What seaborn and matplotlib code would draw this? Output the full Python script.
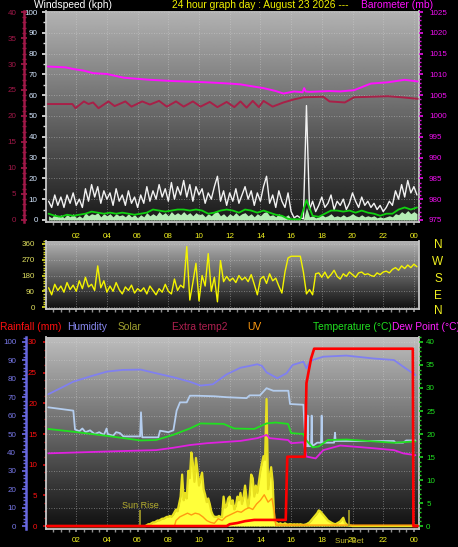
import numpy as np
import matplotlib
matplotlib.use("Agg")
import matplotlib.pyplot as plt
import seaborn as sns
from matplotlib.ticker import MultipleLocator

sns.set_theme(style="dark")
plt.rcParams["font.family"] = ["Liberation Sans", "DejaVu Sans"]

W, H = 458, 547
X0, X1 = 0.03, 24.3

hour_ticks = [2, 4, 6, 8, 10, 12, 14, 16, 18, 20, 22, 24]
hour_labels = ["02", "04", "06", "08", "10", "12", "14", "16", "18", "20", "22", "00"]

# ---- top panel: wind (kph), barometer (mb), extra temp (0-40) ----
wind_times = np.round(np.arange(121) * 0.2 + 0.2, 2)
wind_gust = [9, 6, 12, 7, 11, 6, 12, 8, 13, 7, 10, 6, 15, 9, 17, 11, 16, 8, 14, 10,
             13, 7, 15, 9, 12, 7, 14, 8, 11, 6, 12, 8, 16, 9, 14, 10, 17, 11, 15, 9,
             18, 10, 16, 12, 19, 11, 17, 9, 16, 12, 15, 8, 13, 10, 16, 21, 9, 14, 7, 13,
             9, 15, 8, 12, 16, 10, 14, 7, 13, 9, 16, 21, 8, 12, 6, 14, 9, 6, 13, 4,
             1, 2, 1, 0.5, 55, 5, 9, 4, 7, 11, 6, 8, 12, 5, 9, 7, 10, 5, 8, 13,
             9, 6, 11, 7, 9, 6, 8, 5, 7, 4, 6, 9, 7, 14, 10, 17, 11, 19, 13, 16, 12]
wind_speed = [2, 1, 3, 1.5, 2.5, 1, 2.5, 1.5, 3, 1, 2, 1, 3.5, 2, 3, 2.5, 3.5, 1.5, 3, 2,
              3, 1.5, 3, 2, 2.5, 1.5, 3, 1.5, 2.5, 1, 2.5, 1.5, 3.5, 2, 3, 2, 4, 2.5, 3.5, 2,
              4, 2.5, 3.5, 2.5, 4, 2.5, 3.5, 2, 3.5, 2.5, 3, 1.5, 3, 2, 3.5, 4, 2, 3, 1.5, 3,
              2, 3.5, 2, 3, 3.5, 2, 3, 1.5, 3, 2, 3.5, 4, 2, 2.5, 1.5, 3, 2, 1.5, 2.5, 0.5,
              0.2, 0.3, 0.2, 0.2, 6, 1.5, 2, 1, 1.5, 2.5, 1.5, 2, 3, 1.5, 2, 1.5, 2.5, 1.5, 2, 3,
              2, 1.5, 2.5, 1.5, 2, 1.5, 2, 1, 1.5, 1, 1.5, 2, 1.5, 3, 2.5, 4, 3, 4.5, 3, 4, 3]
avg_times = np.round(np.arange(61) * 0.4 + 0.2, 2)
wind_avg = [3, 2, 1.5, 2.5, 2, 2.5, 3, 4, 3.5, 3, 3.5, 3, 3.5, 3, 2.5, 3, 3.5, 5, 4.5, 4,
            4.5, 5, 5, 4.5, 5, 4.5, 3, 3.5, 4.5, 5, 4.5, 3.5, 5, 4.5, 3.5, 4.5, 3.5, 2.5, 2, 0.5,
            0.3, 0.3, 9.5, 2, 1.5, 3, 4.5, 4.5, 4, 4.5, 3.5, 4.5, 3.5, 3, 2, 3, 3, 5, 6, 5, 6]

baro_times = [0.15, 1.3, 1.8, 2.5, 3.1, 4.0, 5.1, 6.8, 8.3, 10.5, 12.0, 12.7, 14.2, 15.0,
              15.5, 16.2, 16.75, 16.85, 16.95, 17.2, 18.5, 19.2, 20.1, 21.2, 22.3, 23.4, 24.25]
barometer = [1011.9, 1011.7, 1011.3, 1010.9, 1010.3, 1010.1, 1009.2, 1008.7, 1008.4, 1008.1,
             1007.8, 1007.6, 1006.7, 1006.0, 1005.4, 1005.9, 1005.7, 1006.7, 1005.9, 1005.8,
             1006.0, 1005.9, 1006.2, 1007.8, 1008.1, 1008.7, 1008.3]

extra_times = [0.15, 1.75, 1.95, 2.5, 2.8, 3.1, 3.45, 4.1, 4.5, 5.2, 5.6, 6.3, 6.8, 7.4, 7.9,
               8.5, 9.0, 9.6, 10.1, 10.7, 11.2, 11.8, 12.3, 12.7, 13.1, 13.5, 13.9, 14.2, 14.8,
               15.5, 16.2, 16.8, 18.1, 18.5, 19.5, 20.1, 22.3, 23.2, 24.25]
extra_temp1 = [22.3, 22.3, 21.5, 22.8, 22.3, 22.6, 21.5, 22.8, 21.9, 22.8, 21.8, 22.8, 22.2,
               22.9, 21.8, 22.8, 21.8, 22.8, 21.8, 22.7, 21.7, 22.7, 21.7, 22.8, 21.6, 22.9,
               21.7, 22.9, 21.8, 22.6, 23.2, 23.6, 23.7, 22.8, 22.6, 23.6, 23.8, 23.6, 23.3]

# ---- middle panel: wind direction (deg) ----
wind_dir = [110, 70, 130, 95, 120, 85, 140, 100, 125, 90, 150, 105, 170, 115, 130,
            95, 235, 110, 150, 85, 120, 90, 140, 100, 75, 115, 95, 125, 80, 105,
            90, 110, 75, 120, 95, 70, 105, 85, 130, 90, 75, 160, 95, 125, 110,
            345, 40, 140, 250, 35, 180, 120, 305, 90, 170, 30, 265, 145, 175, 150,
            165, 140, 180, 155, 170, 145, 185, 130, 70, 160, 175, 135, 190, 150, 165,
            120, 80, 200, 280, 290, 290, 290, 290, 200, 75, 100, 70, 190, 195, 170,
            200, 165, 185, 210, 175, 160, 190, 175, 200, 185, 170, 195, 200, 185, 190,
            180, 175, 195, 185, 200, 205, 195, 215, 225, 210, 235, 220, 240, 225, 245, 230]

# ---- bottom panel ----
hum_times = [0.18, 1.0, 1.8, 3.0, 4.0, 5.0, 6.2, 7.2, 8.3, 9.4, 10.1, 10.9, 11.8, 12.7, 13.3,
             13.8, 14.1, 14.4, 15.1, 15.7, 16.1, 16.8, 17.0, 17.2, 17.4, 18.1, 19.6, 21.4,
             22.7, 23.3, 24.1]
humidity = [71.6, 75, 78.4, 81.5, 83.9, 84.8, 85, 83, 80.9, 78.4, 76.3, 77, 82.4, 86, 87,
            87.9, 87, 83.5, 80.3, 83, 87.5, 89.3, 85.7, 89, 90.2, 92, 92.6, 91, 90.2, 86.6, 82]

extra2_times = [0.18, 1.81, 1.92, 2.2, 2.4, 2.6, 2.9, 3.2, 3.5, 3.8, 3.98, 4.05, 4.4, 4.6,
                4.85, 5.07, 6.16, 6.22, 6.3, 7.35, 7.46, 8.0, 8.33, 8.54, 8.76, 9.2, 9.41,
                9.85, 11.0, 11.8, 13.1, 13.3, 13.97, 14.4, 14.84, 15.82, 15.93, 16.8, 16.95,
                17.05, 17.08, 17.12, 17.3, 17.34, 17.38, 17.7, 17.95, 17.99, 18.03, 18.8,
                18.86, 18.9, 22.7, 22.8, 23.3, 23.5, 24.1]
extra_hum = [64.5, 62.7, 52.5, 51.5, 53, 51, 52, 50, 51, 49.5, 53, 50, 49, 51, 50.5, 48.7,
             48.7, 61.8, 48.2, 48.2, 51.8, 51, 52, 62.7, 67.2, 67.2, 70.8, 70.8, 70.5, 70,
             69.5, 71, 71, 74.9, 73.5, 73.5, 66.3, 65.9, 43.4, 43.4, 60, 43.4, 43.4, 60, 43.4,
             45.3, 45.3, 60, 45.3, 45.3, 50.7, 46.2, 46.2, 45.3, 45.3, 46.5, 46.5]

temp_times = [0.18, 1.8, 4.0, 6.2, 7.2, 8.3, 9.4, 10.1, 11.6, 12.3, 13.6, 14.4, 15.0, 15.8,
              16.0, 16.8, 17.0, 17.4, 17.8, 18.4, 19.6, 21.4, 22.7, 24.1]
temperature = [21.1, 20.5, 19.6, 18.6, 18.7, 19.8, 21.2, 22.3, 22.2, 21.2, 21.1, 22.3, 22.5,
               22.2, 20.2, 20.0, 18.6, 17.1, 17.3, 18.7, 18.8, 18.4, 18.1, 18.4]
dew_times = [0.18, 4.0, 7.2, 8.3, 9.4, 10.5, 12.7, 13.8, 14.4, 14.6, 15.8, 16.0, 16.8, 17.0,
             17.6, 18.1, 19.2, 21.4, 22.7, 23.3, 24.1]
dew_point = [15.8, 16.2, 16.5, 17.0, 17.6, 18.0, 18.5, 19.1, 19.8, 19.1, 18.7, 18.0, 18.2,
             15.1, 14.7, 16.5, 17.5, 16.9, 16.5, 15.8, 15.4]

rain_times = [0.1, 11.8, 12.0, 12.5, 13.0, 13.6, 15.65, 15.75, 16.9, 17.0, 17.3, 17.5,
              23.93, 23.97, 24.25]
rainfall = [0, 0, 0.3, 0.5, 0.8, 1.0, 1.0, 11.3, 11.3, 23.3, 27.3, 28.9, 28.9, 0, 0]

solar_active = [0, 0.5, 1, 1, 1.5, 2, 2, 2.5, 3, 3, 3.5, 4, 4, 4.5, 5,
                5, 5.5, 5, 6, 7.5, 9, 8, 12, 16, 28, 14, 18, 15, 30, 26,
                40, 34, 24, 37, 30, 22, 26, 29, 20, 17, 13, 15, 12, 8, 6,
                5, 5, 5, 5.5, 5, 5, 16, 10, 11, 15, 16, 12, 14, 9, 11,
                16, 14, 18, 12, 16, 22, 15, 10, 17, 28, 26, 16, 22, 18, 24,
                30, 34, 38, 36, 69, 20, 27, 32, 24, 3, 2, 1.5, 1, 1.5, 1,
                1, 1.5, 1, 0.8, 1, 1, 0.8, 1, 0.8, 1, 0.8, 1, 0.8, 0.6, 0.8,
                1, 1.5, 2, 3, 4, 5, 6, 7, 8.5, 8, 7, 6, 5, 4, 3,
                2.5, 2, 1.5, 1.2, 1, 1.5, 2, 2.5, 3.5, 4.5, 2, 1, 0.5, 0.3, 0.2, 0]
solar_times = np.concatenate([[0.1], np.round(np.arange(136) * 0.1 + 6.5, 2), [24.25]])
solar = np.concatenate([[0], solar_active, [0]])

uv_times = [0.1, 8.4, 8.5, 8.75, 9.0, 9.25, 9.5, 9.75, 10.0, 10.25, 10.5, 10.75, 11.0, 11.25,
            11.5, 11.75, 12.0, 12.25, 12.5, 12.75, 13.0, 13.25, 13.5, 13.75, 14.0, 14.25,
            14.5, 14.75, 14.9, 15.0, 24.25]
uv = [0, 0, 3, 5, 6, 7, 6, 7, 6.5, 5, 3, 2, 1.5, 4, 3, 5, 6, 7, 8, 7.5, 9, 10, 9, 12, 14,
      17, 13, 15, 8, 0.5, 0.5]

sun_rise, sun_set, sun_mark = 6.15, 19.8, 8.5


def px_rect(x0, y0, x1, y1):
    return [x0 / W, 1 - y1 / H, (x1 - x0) / W, (y1 - y0) / H]


def gradient(ax, top, bottom):
    grad = np.linspace(bottom, top, 256).reshape(-1, 1)
    ax.imshow(grad, extent=[0, 1, 0, 1], transform=ax.transAxes, origin="lower",
              aspect="auto", cmap="gray", vmin=0, vmax=1, zorder=0)


def base_style(ax, ylim):
    ax.set_xlim(X0, X1)
    ax.set_ylim(*ylim)
    ax.set_xticks(hour_ticks)
    ax.set_xticklabels(hour_labels)
    ax.xaxis.set_minor_locator(MultipleLocator(0.5))
    ax.grid(True, which="major", color="#d8d8d8", linestyle=(0, (1, 2)), linewidth=0.6, alpha=0.55)
    ax.tick_params(axis="x", which="both", bottom=True, colors="#909090", length=2,
                   labelcolor="#f0f020", labelsize=5.8, pad=3.5)
    ax.spines["top"].set_visible(False)
    for s in ["left", "bottom", "right"]:
        ax.spines[s].set_color("#c8c8c8")
        ax.spines[s].set_linewidth(1.3)
    ax.set_xlabel("")
    ax.set_ylabel("")


def twin_clean(ax):
    for s in ["top", "bottom", "left", "right"]:
        ax.spines[s].set_visible(False)
    ax.grid(False)
    ax.set_ylabel("")


def line(ax, x, y, color, lw, z=3):
    sns.lineplot(x=x, y=y, ax=ax, color=color, linewidth=lw, estimator=None,
                 sort=False, legend=False, zorder=z)


fig = plt.figure(figsize=(W / 100, H / 100), dpi=100, facecolor="black")

# ---------------- top panel ----------------
ax1 = fig.add_axes(px_rect(46, 11, 418.5, 222))
gradient(ax1, 0.70, 0.10)
ax1.fill_between(wind_times, 0, wind_speed, color="#b4ecb4", linewidth=0, zorder=2)
line(ax1, wind_times, wind_gust, "#f2f2f2", 1.0)
line(ax1, avg_times, wind_avg, "#10d010", 1.3, z=4)
base_style(ax1, (-1, 100.5))
ax1.tick_params(axis="x", pad=6)
ax1.set_yticks(range(0, 101, 10))
ax1.yaxis.set_minor_locator(MultipleLocator(5))
ax1.tick_params(axis="y", which="both", left=True, colors="#e0e0e0", labelcolor="#d4e6ff",
                labelsize=5.8, length=3, pad=3)
ax1.tick_params(axis="y", which="minor", length=2)

ax_c = ax1.twinx()
line(ax_c, extra_times, extra_temp1, "#a82048", 1.4)
twin_clean(ax_c)
ax_c.set_ylim(-0.4, 40.2)
ax_c.yaxis.set_ticks_position("left")
ax_c.spines["left"].set_visible(True)
ax_c.spines["left"].set_position(("axes", -0.059))
ax_c.spines["left"].set_color("#a01848")
ax_c.spines["left"].set_linewidth(1.8)
ax_c.set_yticks(range(0, 41, 5))
ax_c.yaxis.set_minor_locator(MultipleLocator(1))
ax_c.tick_params(axis="y", which="both", left=True, right=False, direction="inout",
                 colors="#a01848", labelsize=5.8, length=5, pad=3)
ax_c.tick_params(axis="y", which="minor", length=3)

ax_b = ax1.twinx()
line(ax_b, baro_times, barometer, "#ff10ff", 1.4)
twin_clean(ax_b)
ax_b.set_ylim(974.5, 1025.25)
ax_b.set_yticks(range(975, 1026, 5))
ax_b.yaxis.set_minor_locator(MultipleLocator(1))
ax_b.tick_params(axis="y", which="both", right=True, colors="#e010e0", labelcolor="#f010f0",
                 labelsize=5.8, length=3, pad=4.5)
ax_b.tick_params(axis="y", which="minor", length=1.5)
ax_b.set_xlim(X0, X1)

# ---------------- middle panel ----------------
ax2 = fig.add_axes(px_rect(46, 241, 418.5, 309))
gradient(ax2, 0.70, 0.06)
line(ax2, wind_times, wind_dir, "#f4f400", 1.0)
base_style(ax2, (-11, 377))
ax2.tick_params(axis="x", labelbottom=False)
ax2.set_yticks([0, 90, 180, 270, 360])
ax2.yaxis.set_minor_locator(MultipleLocator(15))
ax2.tick_params(axis="y", which="both", left=True, colors="#d8d820", labelcolor="#e0e060",
                labelsize=5.8, length=3, pad=5)
ax2.tick_params(axis="y", which="minor", length=2)

# ---------------- bottom panel ----------------
ax3 = fig.add_axes(px_rect(46, 337, 418.5, 529))
gradient(ax3, 0.74, 0.06)
ax3.fill_between(solar_times, 0, solar, color="#ffff3a", linewidth=0, zorder=2)
line(ax3, solar_times, solar, "#e8e020", 1.6, z=2.5)
line(ax3, uv_times, uv, "#ff9a10", 1.0)
line(ax3, hum_times, humidity, "#8080f0", 1.3)
line(ax3, extra2_times, extra_hum, "#b4cdee", 1.3)
ax3.vlines([sun_rise, sun_set], 0, sun_mark, color="#a8a028", linewidth=1.2, zorder=3)
ax3.text(sun_rise - 1.2, sun_mark + 2.5, "Sun Rise", color="#b8b030", fontsize=6.5,
         ha="left", va="center", zorder=5)
ax3.text(sun_set, -8.2, "Sun Set", color="#c8c030", fontsize=5.8, ha="center",
         va="center", clip_on=False)
base_style(ax3, (-1.6, 102.7))
ax3.spines["left"].set_position(("axes", -0.054))
ax3.spines["left"].set_color("#6868e0")
ax3.spines["left"].set_linewidth(1.8)
ax3.set_yticks(range(0, 101, 10))
ax3.yaxis.set_minor_locator(MultipleLocator(2))
ax3.tick_params(axis="y", which="both", left=True, colors="#6868e0", labelcolor="#7878e8",
                labelsize=5.8, length=3, pad=4)
ax3.tick_params(axis="y", which="minor", length=2)

ax_t = ax3.twinx()
line(ax_t, temp_times, temperature, "#20e020", 1.3)
line(ax_t, dew_times, dew_point, "#e020e0", 1.3)
twin_clean(ax_t)
ax_t.set_ylim(-0.64, 41.08)
ax_t.set_yticks(range(0, 41, 5))
ax_t.yaxis.set_minor_locator(MultipleLocator(1))
ax_t.tick_params(axis="y", which="both", right=True, colors="#20d020", labelcolor="#20e020",
                 labelsize=5.8, length=3, pad=2.5)
ax_t.tick_params(axis="y", which="minor", length=1.5)

ax_r = ax3.twinx()
line(ax_r, rain_times, rainfall, "#ff0000", 1.9, z=5)
twin_clean(ax_r)
ax_r.set_ylim(-0.48, 30.81)
ax_r.yaxis.set_ticks_position("left")
ax_r.spines["left"].set_visible(True)
ax_r.spines["left"].set_color("#c8c8c8")
ax_r.spines["left"].set_linewidth(1.3)
ax_r.set_yticks(range(0, 31, 5))
ax_r.yaxis.set_minor_locator(MultipleLocator(1.25))
ax_r.tick_params(axis="y", which="both", left=True, right=False, colors="#d01010",
                 labelcolor="#ff1010", labelsize=5.8, length=2.5, pad=4)
ax_r.tick_params(axis="y", which="minor", length=1.5)
for a in (ax_t, ax_r, ax_c):
    a.set_xlim(X0, X1)

# ---------------- header texts ----------------
def ftext(x, y, s, color, size=7.4, ha="left"):
    fig.text(x / W, 1 - y / H, s, color=color, fontsize=size, ha=ha, va="center")


ftext(34, 5.5, "Windspeed (kph)", "white")
ftext(172, 5.5, "24 hour graph day : August 23 2026 ---", "#f0f000")
ftext(361, 5.5, "Barometer (mb)", "#ff10ff")

ftext(0, 327, "Rainfall (mm)", "#ff1010")
ftext(67, 327, "Humidity", "#8888f0")
ftext(118, 327, "Solar", "#a0a030")
ftext(172, 327, "Extra temp2", "#b02050")
ftext(247, 327, "UV", "#ff9a10")
ftext(313, 327, "Temperature (\u00b0C)", "#20e020")
ftext(392, 327, "Dew Point (\u00b0C)", "#ff20ff")

for letter, yy in zip(["N", "W", "S", "E", "N"], [245, 262, 279, 296, 311]):
    ftext(438, yy, letter, "#f0f020", size=8.5, ha="center")

fig.savefig("out.png", dpi=100, facecolor="black")
